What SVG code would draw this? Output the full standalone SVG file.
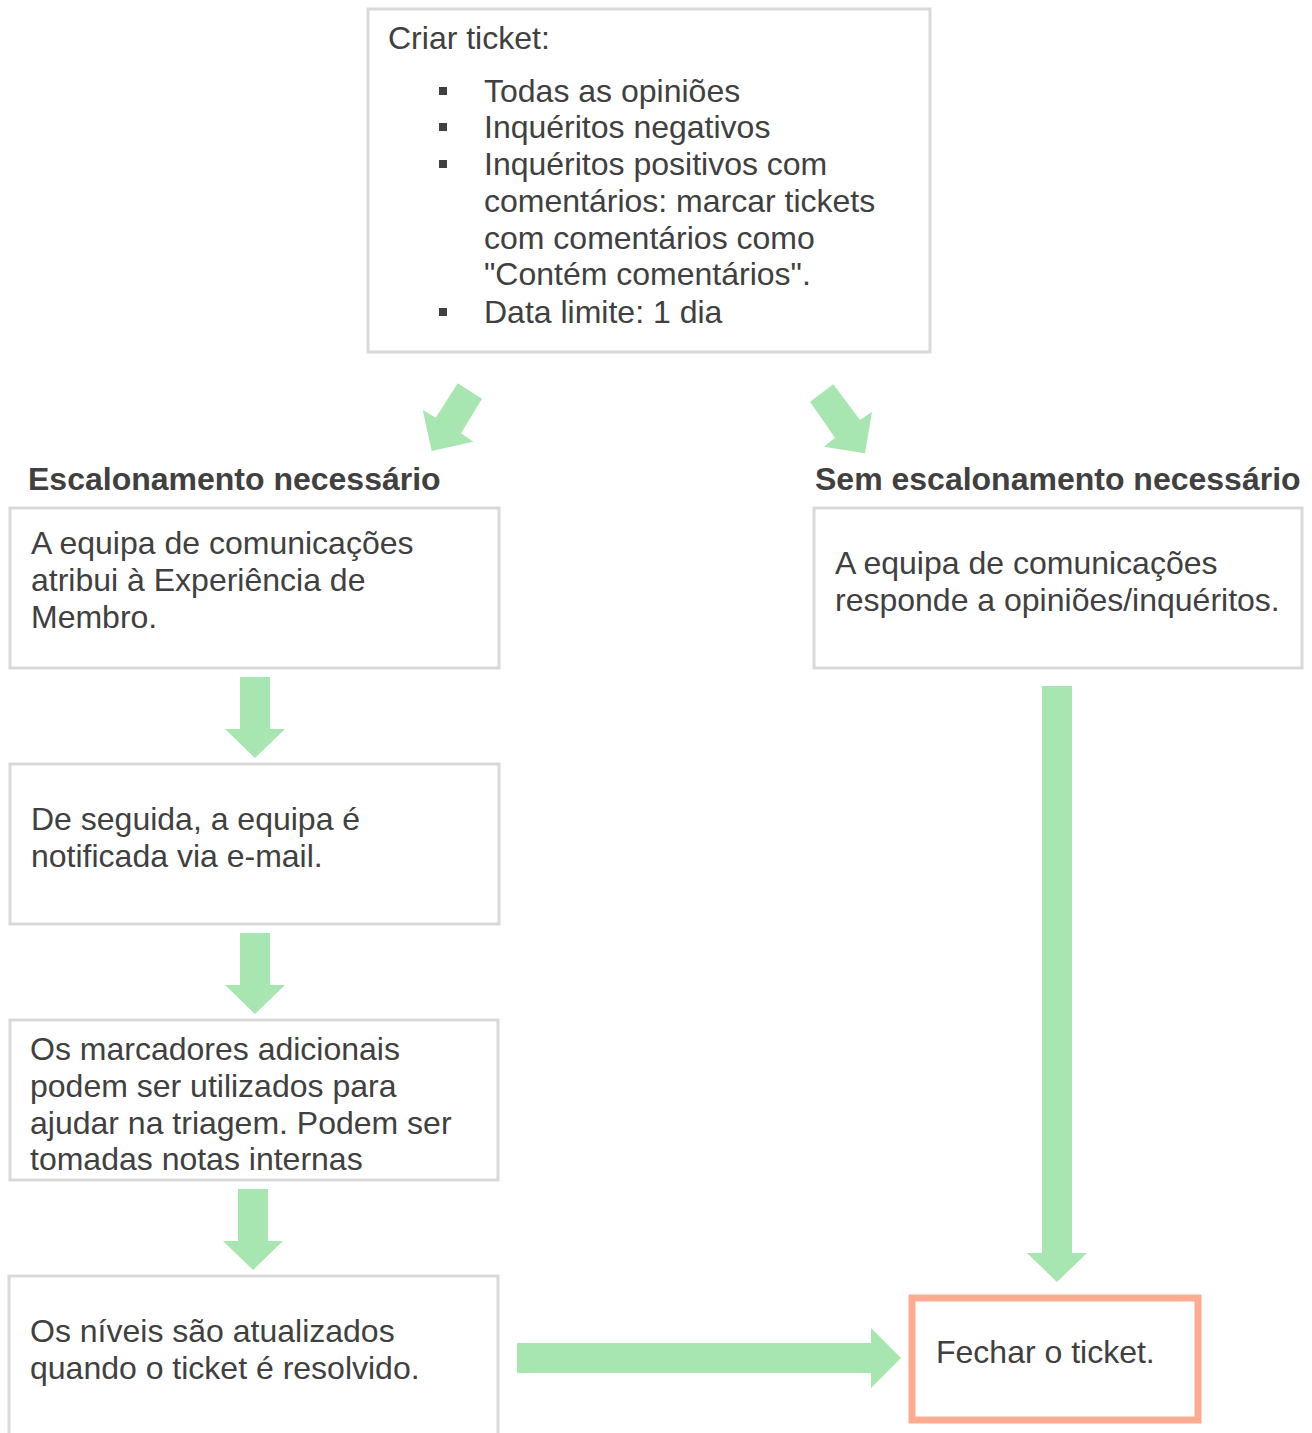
<svg xmlns="http://www.w3.org/2000/svg" width="1312" height="1433" viewBox="0 0 1312 1433">
<style>
.box{fill:#fff;stroke:#d9d9d9;stroke-width:3}
.close{fill:#fff;stroke:#ffab92;stroke-width:7}
.t{font-family:"Liberation Sans",Arial,sans-serif;font-size:32px;fill:#404040}
.h{font-family:"Liberation Sans",Arial,sans-serif;font-size:32px;font-weight:bold;fill:#404040}
.arr{fill:#a8e6b1}
.bul{fill:#404040}
</style>
<rect width="1312" height="1433" fill="#fff"/>
<g id="connectors">
<polygon class="arr" points="457.7,383.3 482,398.7 461,433.3 473.3,441.7 431.7,451 422.7,410 435.7,417.7"/>
<polygon class="arr" points="833.3,384.3 810,401.7 835,437.7 824,446.7 865,453.3 872,411.7 860,420"/>
<polygon class="arr" points="240,677 270,677 270,729 285,729 255,758 225,729 240,729"/>
<polygon class="arr" points="240,933 270,933 270,985 285,985 255,1014 225,985 240,985"/>
<polygon class="arr" points="238,1189 268,1189 268,1241 283,1241 253,1270 223,1241 238,1241"/>
<polygon class="arr" points="1042,686 1072,686 1072,1253 1087,1253 1057,1282 1027,1253 1042,1253"/>
<polygon class="arr" points="517,1343 871,1343 871,1328 901,1358 871,1388 871,1373 517,1373"/>
</g>
<g id="node-create">
<rect class="box" x="368" y="9" width="562" height="343"/>
<text class="t" x="388" y="49">Criar ticket:</text>
<rect class="bul" x="439" y="87" width="8" height="8"/>
<rect class="bul" x="439" y="123" width="8" height="8"/>
<rect class="bul" x="439" y="160" width="8" height="8"/>
<rect class="bul" x="439" y="308" width="8" height="8"/>
<text class="t" x="484" y="102">Todas as opiniões</text>
<text class="t" x="484" y="138">Inquéritos negativos</text>
<text class="t" x="484" y="175">Inquéritos positivos com</text>
<text class="t" x="484" y="212">comentários: marcar tickets</text>
<text class="t" x="484" y="249">com comentários como</text>
<text class="t" x="484" y="285">"Contém comentários".</text>
<text class="t" x="484" y="323">Data limite: 1 dia</text>
</g>
<g id="label-esc">
<text class="h" x="28" y="490">Escalonamento necessário</text>
</g>
<g id="label-sem">
<text class="h" x="815" y="490">Sem escalonamento necessário</text>
</g>
<g id="node-assign">
<rect class="box" x="10" y="508" width="489" height="160"/>
<text class="t" x="31" y="554">A equipa de comunicações</text>
<text class="t" x="31" y="591">atribui à Experiência de</text>
<text class="t" x="31" y="628">Membro.</text>
</g>
<g id="node-notify">
<rect class="box" x="10" y="764" width="489" height="160"/>
<text class="t" x="31" y="830">De seguida, a equipa é</text>
<text class="t" x="31" y="867">notificada via e-mail.</text>
</g>
<g id="node-tags">
<rect class="box" x="10" y="1020" width="488" height="160"/>
<text class="t" x="30" y="1060">Os marcadores adicionais</text>
<text class="t" x="30" y="1097">podem ser utilizados para</text>
<text class="t" x="30" y="1134">ajudar na triagem. Podem ser</text>
<text class="t" x="30" y="1170">tomadas notas internas</text>
</g>
<g id="node-levels">
<rect class="box" x="9" y="1276" width="489" height="170"/>
<text class="t" x="30" y="1342">Os níveis são atualizados</text>
<text class="t" x="30" y="1379">quando o ticket é resolvido.</text>
</g>
<g id="node-respond">
<rect class="box" x="814" y="508" width="488" height="160"/>
<text class="t" x="835" y="574">A equipa de comunicações</text>
<text class="t" x="835" y="611">responde a opiniões/inquéritos.</text>
</g>
<g id="node-close">
<rect class="close" x="912" y="1298" width="286" height="122"/>
<text class="t" x="936" y="1363">Fechar o ticket.</text>
</g>
</svg>
